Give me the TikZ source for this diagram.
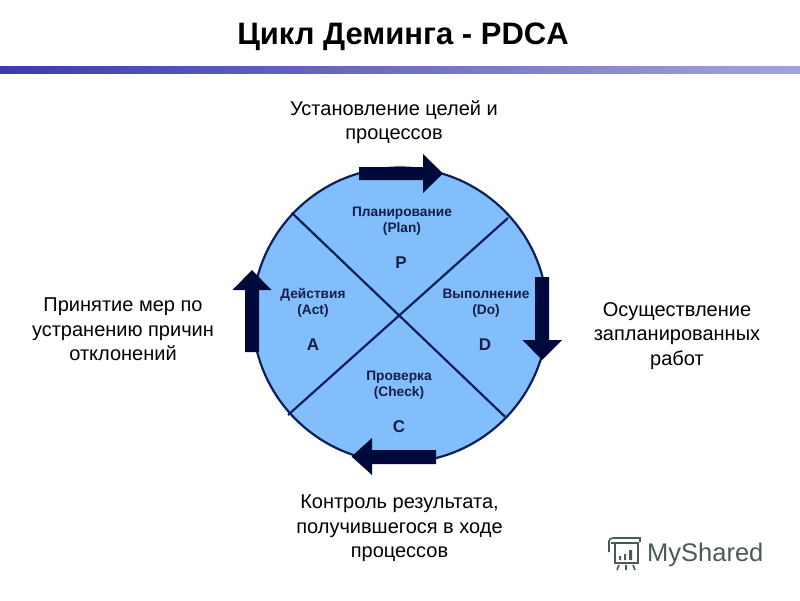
\documentclass[tikz,border=0pt]{standalone}
\usepackage{fontspec}
\setmainfont{Liberation Sans}
\definecolor{disc}{HTML}{82BEFC}
\definecolor{navy}{HTML}{0B1F58}
\definecolor{arrowc}{HTML}{000A3A}
\definecolor{inktx}{HTML}{141E46}
\definecolor{barL}{HTML}{3C3CA8}
\definecolor{barR}{HTML}{A3A2E0}
\definecolor{logoc}{HTML}{4A5A58}
\tikzset{
  caption/.style={align=center,font=\fontsize{20}{24.6}\selectfont,text=black,inner sep=0pt},
  sector/.style={align=center,font=\bfseries\fontsize{13.7}{16.5}\selectfont,text=inktx,inner sep=0pt},
  letter/.style={font=\bfseries\fontsize{17}{20}\selectfont,text=inktx,inner sep=0pt},
  thickarrow/.style={fill=arrowc,draw=none},
  logoline/.style={draw=logoc,line width=1.6pt}
}
\begin{document}
\begin{tikzpicture}[x=1pt,y=-1pt]
\useasboundingbox (0,0) rectangle (800,600);
\fill[white] (0,0) rectangle (800,600);
% title and bar
\node[font=\bfseries\fontsize{31}{36}\selectfont,inner sep=0pt] (title) at (403,36.5) {Цикл Деминга - PDCA};
\shade[left color=barL,right color=barR,shading=axis] (0,66.7) rectangle (800,73.5);
% disc
\coordinate (c) at (400,315);
\node[circle,draw=navy,fill=disc,line width=2.2pt,minimum size=295pt,inner sep=0pt] (disc) at (c) {};
\coordinate (tl) at (291.7,212.7);
\coordinate (br) at (505,416.7);
\coordinate (tr) at (508,218);
\coordinate (bl) at (288,415);
\draw[navy,line width=2.2pt] (tl) -- (br);
\draw[navy,line width=2.2pt] (tr) -- (bl);
% sector labels
\node[sector] (plan) at (402,221) {Планирование\\(Plan)};
\node[letter] (p) at (401,262.5) {P};
\node[sector] (act) at (313,303) {Действия\\(Act)};
\node[letter] (a) at (313,345) {A};
\node[sector] (do) at (486,303) {Выполнение\\(Do)};
\node[letter] (d) at (485,345) {D};
\node[sector] (check) at (399,385) {Проверка\\(Check)};
\node[letter] (cc) at (399,427) {C};
% arrows
\fill[thickarrow] (359,167) -- (423,167) -- (423,154) -- (443,173.5) -- (423,193) -- (423,180) -- (359,180) -- cycle;
\fill[thickarrow] (535,277) -- (549,277) -- (549,340) -- (562,340) -- (542,360) -- (522.5,340) -- (535,340) -- cycle;
\fill[thickarrow] (436,450) -- (372,450) -- (372,438) -- (351.5,456.5) -- (372,475) -- (372,464) -- (436,464) -- cycle;
\fill[thickarrow] (245,352) -- (259,352) -- (259,290) -- (271.5,290) -- (252,270) -- (232.5,290) -- (245,290) -- cycle;
% captions
\node[caption] (capP) at (394,122) {Установление целей и\\процессов};
\node[caption] (capD) at (677,336) {Осуществление\\запланированных\\работ};
\node[caption] (capC) at (399.5,528.5) {Контроль результата,\\получившегося в ходе\\процессов};
\node[caption] (capA) at (123,329.5) {Принятие мер по\\устранению причин\\отклонений};
% logo
\node[font=\fontsize{25.5}{28}\selectfont,text=logoc,inner sep=0pt,anchor=west] (logo) at (647,554.5) {MyShared};
\draw[logoline] (611,543) -- (638,543) -- (638,563) -- (615,563) -- (615,543);
\draw[logoline] (609,552) -- (609,541) .. controls (609,539) and (611,538) .. (613,538) -- (640,538) -- (640,542);
\fill[logoc] (619,556) rectangle (621,560) (624,554) rectangle (626,560) (629,550) rectangle (632,560);
\draw[logoline] (619,565) -- (617,570) (626,565) -- (626,570) (633,565) -- (635,570);
\end{tikzpicture}
\end{document}
